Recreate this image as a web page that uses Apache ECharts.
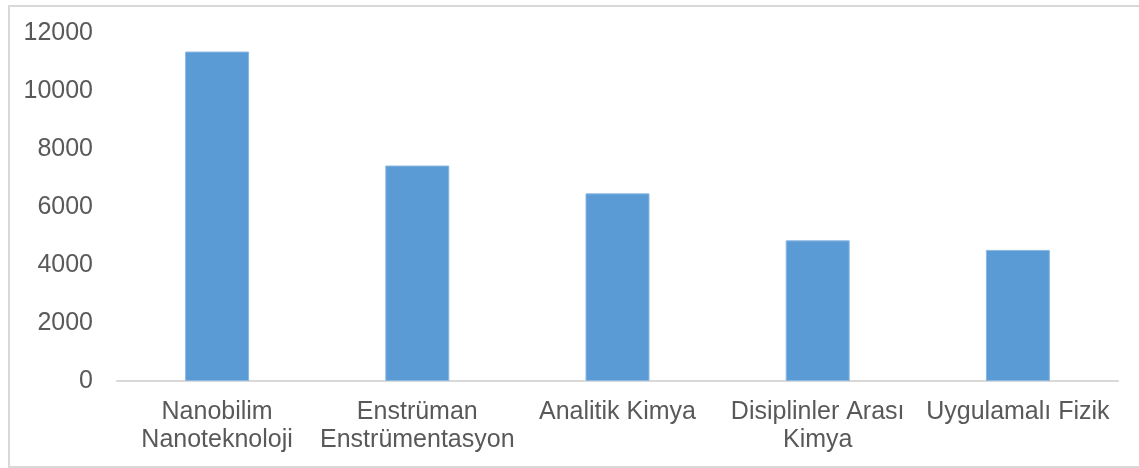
<!DOCTYPE html>
<html>
<head>
<meta charset="utf-8">
<style>
  html, body { margin: 0; padding: 0; background: #fff; }
  #chart { width: 1139px; height: 468px; }
</style>
<script src="https://cdn.jsdelivr.net/npm/echarts@6/dist/echarts.min.js"></script>
</head>
<body>
<div id="chart"></div>
<script>
// Research fields and their counts
const categories = [
  'Nanobilim\nNanoteknoloji',
  'Enstrüman\nEnstrümentasyon',
  'Analitik Kimya',
  'Disiplinler Arası\nKimya',
  'Uygulamalı Fizik'
];
const values = [11360, 7430, 6470, 4850, 4520];
const yTicks = { min: 0, max: 12000, interval: 2000 };

const textColor = '#595959';
const lineColor = '#d9d9d9';
const font = '"Liberation Sans", Arial, sans-serif';

const chart = echarts.init(document.getElementById('chart'), null, { renderer: 'canvas' });
chart.setOption({
  animation: false,
  backgroundColor: '#fff',
  graphic: [{
    type: 'rect',
    shape: { x: 9, y: 6, width: 1150, height: 461 },
    style: { fill: 'none', stroke: lineColor, lineWidth: 2 },
    silent: true
  }],
  grid: { left: 117, right: 21, top: 33, bottom: 87, containLabel: false },
  xAxis: {
    type: 'category',
    data: categories,
    axisLine: { show: true, lineStyle: { color: lineColor, width: 2 } },
    axisTick: { show: false },
    axisLabel: {
      color: textColor,
      fontFamily: font,
      fontSize: 25,
      lineHeight: 28,
      margin: 17,
      interval: 0
    }
  },
  yAxis: {
    type: 'value',
    min: yTicks.min,
    max: yTicks.max,
    interval: yTicks.interval,
    axisLine: { show: false },
    axisTick: { show: false },
    splitLine: { show: false },
    axisLabel: {
      color: textColor,
      fontFamily: font,
      fontSize: 25,
      margin: 24,
      formatter: (v) => String(v)
    }
  },
  series: [{
    type: 'bar',
    data: values,
    barWidth: 64,
    itemStyle: { color: '#5b9bd5', borderColor: '#8ab8e3', borderWidth: 1 }
  }]
});
</script>
</body>
</html>
